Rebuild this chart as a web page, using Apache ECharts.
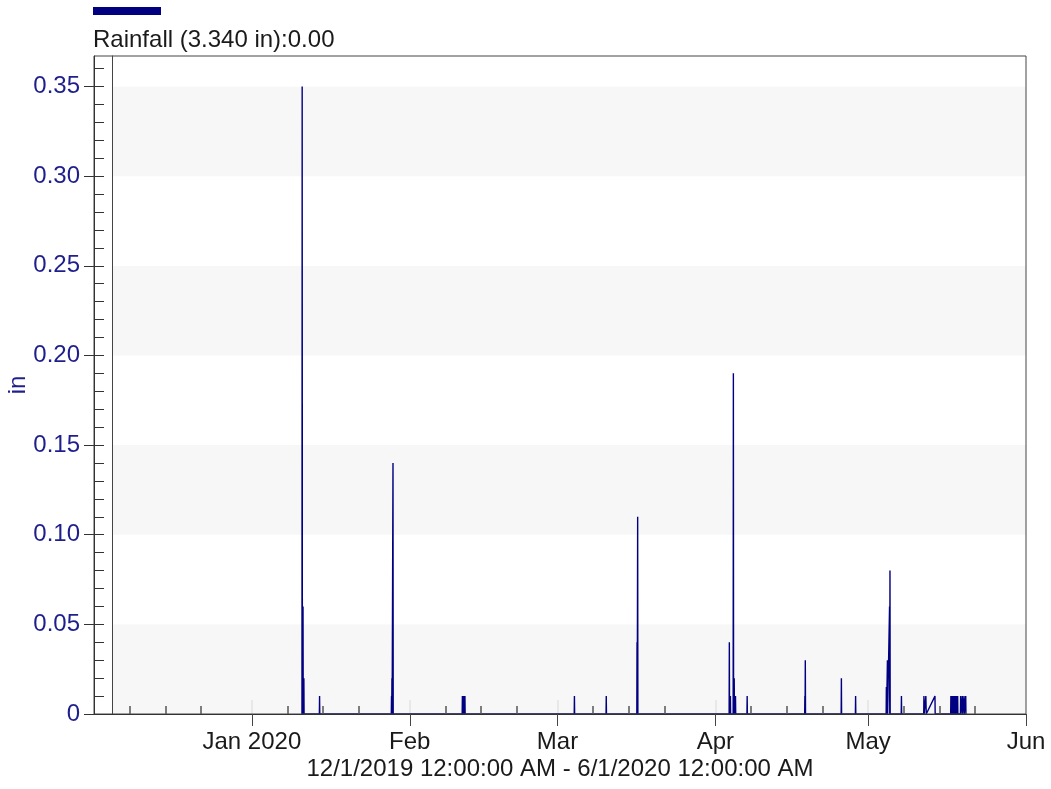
<!DOCTYPE html>
<html>
<head>
<meta charset="utf-8">
<title>Rainfall</title>
<script src="https://cdn.jsdelivr.net/npm/echarts@6/dist/echarts.min.js"></script>
<style>
  html, body { margin: 0; padding: 0; background: #fff; }
  #chart { width: 1051px; height: 789px; }
</style>
</head>
<body>
<div id="chart"></div>
<script>
// Rain gauge log, Dec 2019 - May 2020: [timestamp, inches in interval]
const janRecords = [
  ['2020-01-10 20:00', 0], ['2020-01-10 21:00', 0.35], ['2020-01-10 22:00', 0],
  ['2020-01-11 00:00', 0], ['2020-01-11 01:00', 0.06], ['2020-01-11 02:00', 0],
  ['2020-01-11 04:00', 0], ['2020-01-11 05:00', 0.02], ['2020-01-11 06:00', 0],
  ['2020-01-14 06:00', 0], ['2020-01-14 07:00', 0.01], ['2020-01-14 08:00', 0],
  ['2020-01-28 09:00', 0], ['2020-01-28 10:00', 0.01], ['2020-01-28 11:00', 0],
  ['2020-01-28 12:00', 0.02], ['2020-01-28 13:00', 0],
  ['2020-01-28 16:00', 0], ['2020-01-28 17:00', 0.14], ['2020-01-28 18:00', 0]
];
const febRecords = [
  ['2020-02-11 07:00', 0], ['2020-02-11 08:00', 0.01], ['2020-02-11 09:00', 0],
  ['2020-02-11 13:00', 0], ['2020-02-11 14:00', 0.01], ['2020-02-11 15:00', 0],
  ['2020-02-11 19:00', 0], ['2020-02-11 20:00', 0.01], ['2020-02-11 21:00', 0]
];
const marRecords = [
  ['2020-03-04 07:00', 0], ['2020-03-04 08:00', 0.01], ['2020-03-04 09:00', 0],
  ['2020-03-10 13:00', 0], ['2020-03-10 14:00', 0.01], ['2020-03-10 15:00', 0],
  ['2020-03-16 14:00', 0], ['2020-03-16 15:00', 0.04], ['2020-03-16 16:00', 0],
  ['2020-03-16 17:00', 0], ['2020-03-16 18:00', 0.11], ['2020-03-16 19:00', 0]
];
const aprRecords = [
  ['2020-04-03 17:00', 0], ['2020-04-03 18:00', 0.04], ['2020-04-03 19:00', 0],
  ['2020-04-03 22:00', 0], ['2020-04-03 23:00', 0.01], ['2020-04-04 00:00', 0],
  ['2020-04-04 12:00', 0], ['2020-04-04 13:00', 0.19], ['2020-04-04 14:00', 0],
  ['2020-04-04 16:00', 0], ['2020-04-04 17:00', 0.02], ['2020-04-04 18:00', 0],
  ['2020-04-04 22:00', 0], ['2020-04-04 23:00', 0.01], ['2020-04-05 00:00', 0],
  ['2020-04-07 05:00', 0], ['2020-04-07 06:00', 0.01], ['2020-04-07 07:00', 0],
  ['2020-04-18 13:00', 0], ['2020-04-18 14:00', 0.01], ['2020-04-18 15:00', 0],
  ['2020-04-18 16:00', 0.03], ['2020-04-18 17:00', 0],
  ['2020-04-25 17:00', 0], ['2020-04-25 18:00', 0.02], ['2020-04-25 19:00', 0],
  ['2020-04-28 12:00', 0], ['2020-04-28 13:00', 0.01], ['2020-04-28 14:00', 0]
];
const mayRecords = [
  ['2020-05-04 13:00', 0], ['2020-05-04 14:00', 0.015], ['2020-05-04 15:00', 0],
  ['2020-05-04 18:00', 0], ['2020-05-04 19:00', 0.03], ['2020-05-04 20:00', 0],
  ['2020-05-05 04:00', 0], ['2020-05-05 05:00', 0.06], ['2020-05-05 06:00', 0],
  ['2020-05-05 07:00', 0.08], ['2020-05-05 08:00', 0],
  ['2020-05-07 12:00', 0], ['2020-05-07 13:00', 0.01], ['2020-05-07 14:00', 0],
  ['2020-05-11 22:00', 0], ['2020-05-11 23:00', 0.01], ['2020-05-12 00:00', 0],
  ['2020-05-12 07:00', 0], ['2020-05-12 08:00', 0.01], ['2020-05-12 10:00', 0],
  ['2020-05-14 03:00', 0.01], ['2020-05-14 04:00', 0],
  ['2020-05-17 05:00', 0], ['2020-05-17 06:00', 0.01], ['2020-05-17 07:00', 0],
  ['2020-05-17 08:00', 0.01], ['2020-05-17 09:00', 0], ['2020-05-17 11:00', 0.01],
  ['2020-05-17 12:00', 0], ['2020-05-17 14:00', 0.01], ['2020-05-17 15:00', 0],
  ['2020-05-17 17:00', 0.01], ['2020-05-17 18:00', 0], ['2020-05-17 20:00', 0.01],
  ['2020-05-17 21:00', 0], ['2020-05-17 23:00', 0.01], ['2020-05-18 00:00', 0],
  ['2020-05-18 02:00', 0.01], ['2020-05-18 03:00', 0], ['2020-05-18 05:00', 0.01],
  ['2020-05-18 06:00', 0], ['2020-05-18 08:00', 0.01], ['2020-05-18 09:00', 0],
  ['2020-05-18 11:00', 0.01], ['2020-05-18 12:00', 0], ['2020-05-18 14:00', 0.01],
  ['2020-05-18 15:00', 0],
  ['2020-05-19 03:00', 0], ['2020-05-19 04:00', 0.01], ['2020-05-19 05:00', 0],
  ['2020-05-19 11:00', 0], ['2020-05-19 12:00', 0.01], ['2020-05-19 13:00', 0],
  ['2020-05-19 19:00', 0], ['2020-05-19 20:00', 0.01], ['2020-05-19 21:00', 0],
  ['2020-05-20 03:00', 0], ['2020-05-20 04:00', 0.01], ['2020-05-20 05:00', 0]
];

// Axis ticks and labels
const monthStarts = ['2020-01-01', '2020-02-01', '2020-03-01', '2020-04-01', '2020-05-01', '2020-06-01'];
const monthLabels = ['Jan 2020', 'Feb', 'Mar', 'Apr', 'May', 'Jun'];
const weekDays = [8, 15, 22];
const tickMonths = [[2019, 11], [2020, 0], [2020, 1], [2020, 2], [2020, 3], [2020, 4]];
const yTickValues = [0, 0.05, 0.10, 0.15, 0.20, 0.25, 0.30, 0.35];
const yMinorStep = 0.01;
const Y_MAX = 0.367;

const seriesName = 'Rainfall';
const seriesTotal = '3.340 in';
const seriesCurrent = '0.00';
const rangeLabel = '12/1/2019 12:00:00 AM - 6/1/2020 12:00:00 AM';

const X_MIN = '2019-12-01 00:00';
const X_MAX = '2020-06-01 00:00';

const FONT = '"Liberation Sans", Arial, sans-serif';
const NAVY = '#000080';
const BLUE_TEXT = '#1e1e8c';
const DARK = '#1a1a1a';

// Parse 'YYYY-MM-DD[ HH:mm]' as local time (ms)
function localTime(s) {
  const [d, t] = s.split(' ');
  const [y, m, day] = d.split('-').map(Number);
  const [hh, mm] = (t || '00:00').split(':').map(Number);
  return new Date(y, m - 1, day, hh, mm).getTime();
}

const records = [].concat(janRecords, febRecords, marRecords, aprRecords, mayRecords);
const seriesData = records.map(r => [localTime(r[0]), r[1]]);

const monthTickValues = monthStarts.map(localTime);
const weekTickValues = [];
tickMonths.forEach(([y, m]) => weekDays.forEach(d => weekTickValues.push(new Date(y, m, d).getTime())));
const yMinorValues = [];
for (let i = 0; i * yMinorStep <= Y_MAX + 1e-9; i++) yMinorValues.push(+(i * yMinorStep).toFixed(2));

const chart = echarts.init(document.getElementById('chart'), null, { renderer: 'canvas' });

// Date axis on a millisecond scale
const dateAxisBase = {
  type: 'value',
  gridIndex: 0,
  min: localTime(X_MIN),
  max: localTime(X_MAX),
  position: 'bottom',
  splitLine: { show: false }
};

const option = {
  animation: false,
  backgroundColor: '#ffffff',
  textStyle: { fontFamily: FONT },
  grid: [
    { left: 94, right: 25, top: 56, bottom: 75, outerBoundsMode: 'none', containLabel: false,
      show: true, borderColor: '#444', borderWidth: 1, z: 3 },
    { left: 112, right: 25, top: 56, bottom: 75, outerBoundsMode: 'none', containLabel: false }
  ],
  xAxis: [
    Object.assign({}, dateAxisBase, {
      z: 4,
      axisLine: { show: true, lineStyle: { color: '#333', width: 1 } },
      axisTick: { show: true, customValues: monthTickValues, length: 12, lineStyle: { color: '#444', width: 1 } },
      axisLabel: {
        customValues: monthTickValues,
        showMinLabel: true, showMaxLabel: true,
        margin: 16,
        fontSize: 24, fontFamily: FONT, color: DARK,
        formatter: v => monthLabels[monthTickValues.indexOf(v)] || ''
      },
      name: rangeLabel,
      nameLocation: 'middle',
      nameGap: 43,
      nameMoveOverlap: false,
      nameTextStyle: { fontSize: 24, fontFamily: FONT, color: DARK }
    }),
    Object.assign({}, dateAxisBase, {
      z: 4,
      axisLine: { show: false },
      axisTick: { show: true, inside: true, customValues: weekTickValues, length: 8, lineStyle: { color: '#555', width: 1.5 } },
      axisLabel: { show: false }
    }),
    Object.assign({}, dateAxisBase, {
      z: 1,
      axisLine: { show: false },
      axisTick: { show: true, inside: true, customValues: monthTickValues.slice(0, 5), length: 14, lineStyle: { color: '#e4e4e4', width: 1.5 } },
      axisLabel: { show: false }
    }),
    { type: 'value', gridIndex: 1, min: 0, max: 1, show: false }
  ],
  yAxis: [
    {
      type: 'value', gridIndex: 0, min: 0, max: Y_MAX, position: 'left', z: 4,
      axisLine: { show: true, lineStyle: { color: '#333', width: 1 } },
      axisTick: { show: true, inside: false, customValues: yTickValues, length: 10, lineStyle: { color: '#333', width: 1 } },
      axisLabel: {
        customValues: yTickValues,
        margin: 14, fontSize: 24, fontFamily: FONT, color: BLUE_TEXT,
        formatter: v => (v === 0 ? '0' : v.toFixed(2))
      },
      splitLine: { show: false },
      name: 'in',
      nameLocation: 'middle',
      nameGap: 64,
      nameMoveOverlap: false,
      nameTextStyle: { fontSize: 24, fontFamily: FONT, color: BLUE_TEXT }
    },
    {
      type: 'value', gridIndex: 0, min: 0, max: Y_MAX, position: 'left', z: 4,
      axisLine: { show: false },
      axisTick: { show: true, inside: true, customValues: yMinorValues, length: 10, lineStyle: { color: '#333', width: 1 } },
      axisLabel: { show: false },
      splitLine: { show: false }
    },
    {
      type: 'value', gridIndex: 1, min: 0, max: Y_MAX, interval: 0.05, position: 'left', z: 0,
      axisLine: { show: true, lineStyle: { color: '#444', width: 1 } },
      axisTick: { show: false },
      axisLabel: { show: false },
      splitLine: { show: false },
      splitArea: { show: true, areaStyle: { color: ['#f7f7f7', '#ffffff'] } }
    }
  ],
  graphic: [
    { type: 'rect', left: 93, top: 7, shape: { width: 68, height: 8 }, style: { fill: NAVY } },
    {
      type: 'text', left: 93, top: 28,
      style: {
        text: seriesName + ' (' + seriesTotal + '):' + seriesCurrent,
        font: '24px ' + FONT, fill: DARK
      }
    }
  ],
  series: [
    {
      name: seriesName,
      type: 'line',
      xAxisIndex: 0,
      yAxisIndex: 0,
      data: seriesData,
      showSymbol: false,
      symbol: 'none',
      lineStyle: { color: NAVY, width: 1.4 },
      z: 2
    }
  ]
};

chart.setOption(option);
</script>
</body>
</html>
